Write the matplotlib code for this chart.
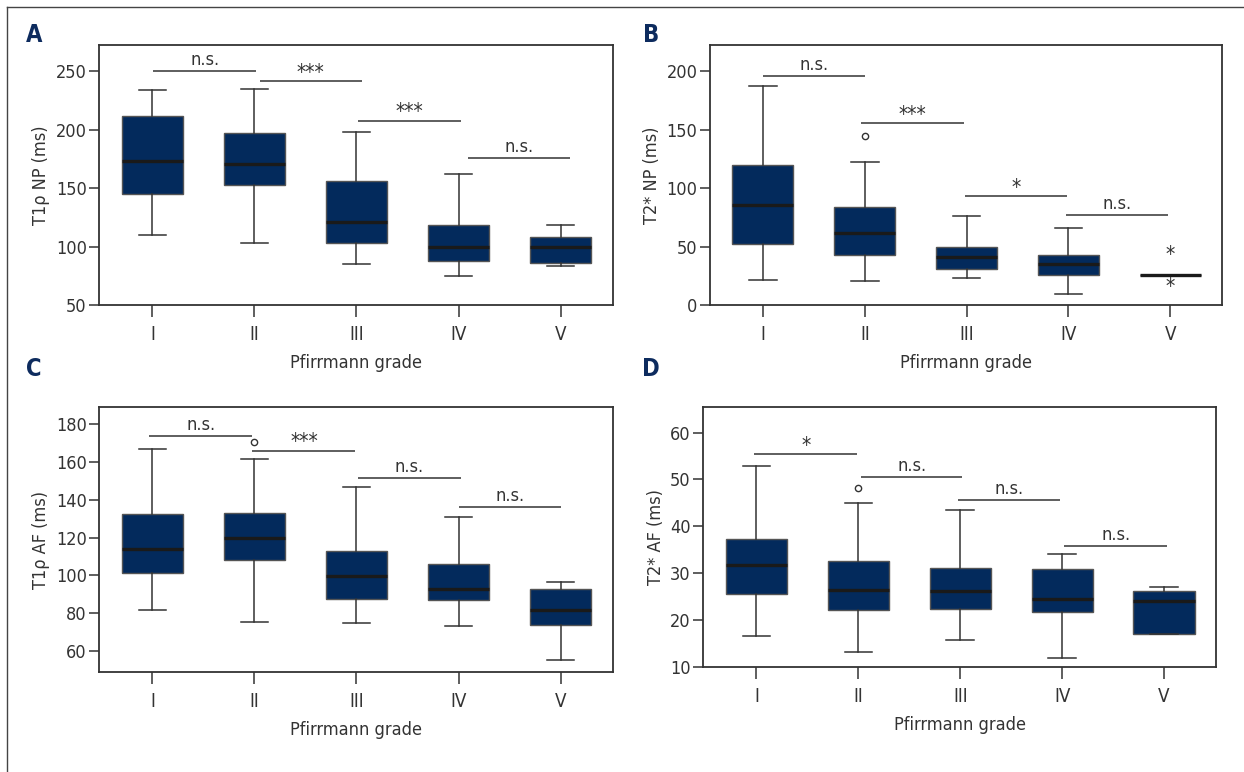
import matplotlib
matplotlib.use("Agg")
import matplotlib.pyplot as plt
from matplotlib.lines import Line2D

plt.rcParams['font.family'] = ['DejaVu Sans']
plt.rcParams['font.stretch'] = 'condensed'

grades = ['I', 'II', 'III', 'IV', 'V']

# Panel A: T1rho NP
a_whislo = [110, 103.5, 85.3, 74.5, 83.3]
a_q1 = [145, 153, 103.5, 88, 86]
a_med = [173, 170.3, 120.8, 99.8, 99.8]
a_q3 = [212, 197.4, 156, 118.6, 107.8]
a_whishi = [234.4, 235, 198, 162, 118.6]
a_fliers = [[], [], [], [], []]
a_sig_x0 = [1.01, 2.05, 3.01, 4.09]
a_sig_x1 = [2.02, 3.05, 4.02, 5.09]
a_sig_y = [250.3, 241.5, 207.9, 175.5]
a_sig_label = ['n.s.', '***', '***', 'n.s.']

# Panel B: T2* NP
b_whislo = [21.6, 20.2, 22.8, 9.1, 25.6]
b_q1 = [52, 42.4, 31, 25.9, 25.6]
b_med = [85.6, 62, 41.3, 35, 25.6]
b_q3 = [120, 84, 49.8, 42.4, 25.6]
b_whishi = [187.5, 122.3, 76.5, 65.7, 25.6]
b_fliers = [[], [145], [], [], []]
b_extreme = [[], [], [], [], [43, 15.4]]
b_sig_x0 = [1.0, 1.96, 2.98, 3.98]
b_sig_x1 = [2.0, 2.97, 3.99, 4.98]
b_sig_y = [195.7, 155.6, 93, 77.4]
b_sig_label = ['n.s.', '***', '*', 'n.s.']

# Panel C: T1rho AF
c_whislo = [81.7, 75, 74.7, 73, 55]
c_q1 = [101, 108, 87.4, 86.7, 73.4]
c_med = [113.7, 119.7, 99.4, 92.7, 81.6]
c_q3 = [132.6, 133.2, 113, 105.8, 92.9]
c_whishi = [167.1, 161.6, 146.6, 131, 96.4]
c_fliers = [[], [170.6], [], [], []]
c_sig_x0 = [0.97, 1.98, 3.01, 4.0]
c_sig_x1 = [1.98, 2.99, 4.02, 5.0]
c_sig_y = [174, 165.9, 151.7, 136.2]
c_sig_label = ['n.s.', '***', 'n.s.', 'n.s.']

# Panel D: T2* AF
d_whislo = [16.7, 13.3, 15.8, 12, 17.1]
d_q1 = [25.6, 22.3, 22.4, 21.8, 17.1]
d_med = [31.7, 26.4, 26.3, 24.6, 24.1]
d_q3 = [37.4, 32.7, 31.2, 31, 26.2]
d_whishi = [52.8, 45, 43.4, 34.1, 27.2]
d_fliers = [[], [48.2], [], [], []]
d_sig_x0 = [0.98, 2.03, 2.98, 4.02]
d_sig_x1 = [1.99, 3.02, 3.98, 5.03]
d_sig_y = [55.4, 50.6, 45.7, 35.9]
d_sig_label = ['*', 'n.s.', 'n.s.', 'n.s.']

NAVY = '#032a5c'
DARK = '#333333'
LABEL_NAVY = '#0d2b5e'

fig = plt.figure(figsize=(12.44, 7.72), dpi=100)

panels = [
    dict(rect=[0.0798, 0.6049, 0.4127, 0.3372], ylim=(50, 272.8), yticks=[50, 100, 150, 200, 250],
         ylabel='T1ρ NP (ms)', stats=(a_whislo, a_q1, a_med, a_q3, a_whishi, a_fliers),
         sig=(a_sig_x0, a_sig_x1, a_sig_y, a_sig_label), extreme=None, letter='A', lxy=(34, 35)),
    dict(rect=[0.5707, 0.6049, 0.4118, 0.3372], ylim=(0, 222.8), yticks=[0, 50, 100, 150, 200],
         ylabel='T2* NP (ms)', stats=(b_whislo, b_q1, b_med, b_q3, b_whishi, b_fliers),
         sig=(b_sig_x0, b_sig_x1, b_sig_y, b_sig_label), extreme=b_extreme, letter='B', lxy=(651, 35)),
    dict(rect=[0.0798, 0.1299, 0.4127, 0.3425], ylim=(48.9, 189), yticks=[60, 80, 100, 120, 140, 160, 180],
         ylabel='T1ρ AF (ms)', stats=(c_whislo, c_q1, c_med, c_q3, c_whishi, c_fliers),
         sig=(c_sig_x0, c_sig_x1, c_sig_y, c_sig_label), extreme=None, letter='C', lxy=(34, 369)),
    dict(rect=[0.5654, 0.1356, 0.4121, 0.3376], ylim=(10, 65.5), yticks=[10, 20, 30, 40, 50, 60],
         ylabel='T2* AF (ms)', stats=(d_whislo, d_q1, d_med, d_q3, d_whishi, d_fliers),
         sig=(d_sig_x0, d_sig_x1, d_sig_y, d_sig_label), extreme=None, letter='D', lxy=(651, 369)),
]

for p in panels:
    ax = fig.add_axes(p['rect'])
    wl, q1, med, q3, wh, fl = p['stats']
    bstats = []
    for i in range(len(grades)):
        bstats.append(dict(label=grades[i], whislo=wl[i], q1=q1[i], med=med[i],
                           q3=q3[i], whishi=wh[i], fliers=fl[i]))
    ax.bxp(bstats, positions=range(1, 6), widths=0.6, capwidths=0.27,
           patch_artist=True, showfliers=True,
           boxprops=dict(facecolor=NAVY, edgecolor='#555555', linewidth=1.0),
           medianprops=dict(color='#1a1a1a', linewidth=2.4),
           whiskerprops=dict(color=DARK, linewidth=1.1),
           capprops=dict(color=DARK, linewidth=1.1),
           flierprops=dict(marker='o', markersize=4.5, markerfacecolor='white',
                           markeredgecolor=DARK, markeredgewidth=1.0))
    if p['extreme'] is not None:
        for i, vals in enumerate(p['extreme']):
            for v in vals:
                ax.text(i + 1, v, '*', ha='center', va='center', fontsize=15, color=DARK)
    x0s, x1s, ys, labs = p['sig']
    for x0, x1, y, lab in zip(x0s, x1s, ys, labs):
        ax.plot([x0, x1], [y, y], color=DARK, linewidth=1.1, solid_capstyle='butt')
        if lab.startswith('*'):
            ax.annotate(lab, xy=((x0 + x1) / 2, y), xytext=(0, -1), textcoords='offset points',
                        ha='center', va='bottom', fontsize=15, color=DARK)
        else:
            ax.annotate(lab, xy=((x0 + x1) / 2, y), xytext=(0, 1.5), textcoords='offset points',
                        ha='center', va='bottom', fontsize=13, color=DARK)
    ax.set_xlim(0.48, 5.51)
    ax.set_ylim(*p['ylim'])
    ax.set_yticks(p['yticks'])
    ax.set_xticks(range(1, 6))
    ax.set_xticklabels(grades)
    ax.tick_params(axis='y', direction='out', length=7, width=1.1, color=DARK,
                   labelsize=13, labelcolor=DARK, pad=2)
    ax.tick_params(axis='x', direction='out', length=8.5, width=1.1, color=DARK,
                   labelsize=13.5, labelcolor=DARK, pad=6)
    for s in ax.spines.values():
        s.set_color(DARK)
        s.set_linewidth(1.3)
    ax.set_ylabel(p['ylabel'], fontsize=13, color=DARK, labelpad=4)
    ax.set_xlabel('Pfirrmann grade', fontsize=13, color=DARK, labelpad=7)
    lx, ly = p['lxy']
    fig.text(lx / 1244, 1 - ly / 772, p['letter'], fontsize=17, fontweight='bold',
             color=LABEL_NAVY, ha='center', va='center', family=['DejaVu Sans'])

# outer frame lines (top and left)
fig.add_artist(Line2D([7 / 1244, 1.0], [1 - 7 / 772, 1 - 7 / 772], transform=fig.transFigure,
                      color='#444444', linewidth=1.0))
fig.add_artist(Line2D([7 / 1244, 7 / 1244], [0.0, 1 - 7 / 772], transform=fig.transFigure,
                      color='#444444', linewidth=1.0))

fig.savefig('out.png', dpi=100)
